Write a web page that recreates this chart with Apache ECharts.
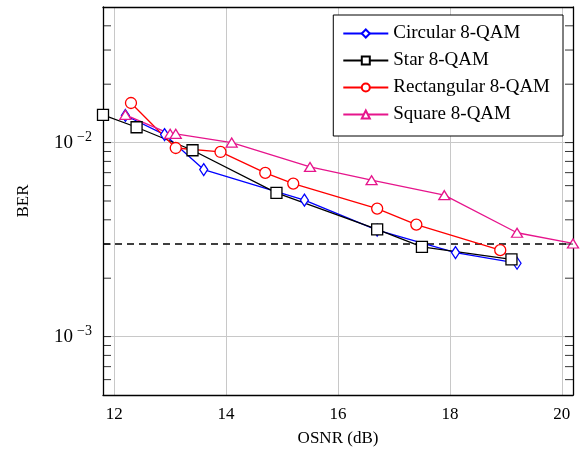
<!DOCTYPE html>
<html>
<head>
<meta charset="utf-8">
<script src="https://cdn.jsdelivr.net/npm/echarts@6/dist/echarts.min.js"></script>
<style>
  html, body { margin: 0; padding: 0; background: #fff; }
  #chart { width: 584px; height: 456px; }
</style>
</head>
<body>
<div id="chart"></div>
<script>
// OSNR (dB) vs BER
var circularX = [12.2, 12.9, 13.6, 15.4, 16.7, 18.1, 19.2];
var circularBER = [0.0138, 0.0110, 0.00726, 0.00505, 0.00354, 0.00271, 0.00239];
var starX = [11.8, 12.4, 13.4, 14.9, 16.7, 17.5, 19.1];
var starBER = [0.0139, 0.0120, 0.00913, 0.00551, 0.00357, 0.00290, 0.00250];
var rectX = [12.3, 13.1, 13.9, 14.7, 15.2, 16.7, 17.4, 18.9];
var rectBER = [0.0160, 0.00938, 0.00895, 0.00698, 0.00615, 0.00457, 0.00378, 0.00279];
var squareX = [12.2, 13.0, 13.1, 14.1, 15.5, 16.6, 17.9, 19.2, 20.2];
var squareBER = [0.0139, 0.0111, 0.0111, 0.0100, 0.00749, 0.00640, 0.00536, 0.00343, 0.00302];
var threshold = 3e-3;
var minorTicks = [6e-4, 7e-4, 8e-4, 9e-4,
  2e-3, 3e-3, 4e-3, 5e-3, 6e-3, 7e-3, 8e-3, 9e-3,
  2e-2, 3e-2, 4e-2];
var majorTicks = [1e-3, 1e-2];
var xMin = 11.8, xMax = 20.2;
var yMin = 5e-4, yMax = 5e-2;

var font = "Liberation Serif";

function zip(xs, ys) {
  return xs.map(function (x, i) { return [x, ys[i]]; });
}

function lineSeries(name, color, symbol, size, xs, ys) {
  return {
    name: name,
    type: "line",
    data: zip(xs, ys),
    symbol: symbol,
    symbolSize: size,
    showAllSymbol: true,
    lineStyle: { color: color, width: 1.3 },
    itemStyle: { color: "#fff", borderColor: color, borderWidth: 1.3 },
    emphasis: { disabled: true }
  };
}

var myChart = echarts.init(document.getElementById("chart"));

var series = [
  // dashed threshold line, drawn first so the curves sit on top
  {
    name: "threshold",
    type: "line",
    data: [[xMin, threshold], [xMax, threshold]],
    symbol: "none",
    silent: true,
    lineStyle: { color: "#000", type: [7, 5], width: 1.4 }
  },
  lineSeries("Circular 8-QAM", "#0000ff", "diamond", [8, 12], circularX, circularBER),
  lineSeries("Star 8-QAM", "#000000", "rect", 11, starX, starBER),
  lineSeries("Rectangular 8-QAM", "#ff0000", "circle", 11, rectX, rectBER),
  lineSeries("Square 8-QAM", "#e6158c", "triangle", [11, 9], squareX, squareBER)
];

// inward log minor/major ticks on both sides
series.push({
  type: "custom",
  silent: true,
  z: 10,
  data: minorTicks.concat(majorTicks).map(function (v) { return [xMin, v]; }),
  renderItem: function (params, api) {
    var v = api.value(1);
    var p = api.coord([xMin, v]);
    var q = api.coord([xMax, v]);
    var len = 8;
    var st = { stroke: "#000", lineWidth: 0.8 };
    return {
      type: "group",
      children: [
        { type: "line", shape: { x1: p[0], y1: p[1], x2: p[0] + len, y2: p[1] }, style: st },
        { type: "line", shape: { x1: q[0], y1: q[1], x2: q[0] - len, y2: q[1] }, style: st }
      ]
    };
  }
});

myChart.setOption({
  animation: false,
  textStyle: { fontFamily: font },
  grid: { left: 103, right: 11, top: 7, bottom: 61 },
  legend: {
    data: ["Circular 8-QAM", "Star 8-QAM", "Rectangular 8-QAM", "Square 8-QAM"],
    orient: "vertical",
    right: 21,
    top: 15,
    padding: [9, 13, 12, 9],
    itemWidth: 45,
    itemHeight: 10,
    itemGap: 8,
    borderColor: "#000",
    borderWidth: 1,
    borderRadius: 0,
    backgroundColor: "#fff",
    selectedMode: false,
    textStyle: { fontFamily: font, fontSize: 19, color: "#000" }
  },
  xAxis: [
    {
      type: "value",
      min: xMin,
      max: xMax,
      name: "OSNR (dB)",
      nameLocation: "middle",
      nameGap: 35,
      nameTextStyle: { fontFamily: font, fontSize: 17, color: "#000" },
      axisLine: { show: true, lineStyle: { color: "#000", width: 1.3 } },
      axisTick: { show: false },
      axisLabel: {
        margin: 11,
        fontFamily: font,
        fontSize: 17,
        color: "#000",
        formatter: function (v) { return Math.abs(v - Math.round(v)) < 1e-6 ? String(v) : ""; }
      },
      splitLine: { show: true, lineStyle: { color: "#c8c8c8", width: 1 } }
    },
    {
      type: "value",
      position: "top",
      min: xMin,
      max: xMax,
      axisLine: { show: true, lineStyle: { color: "#000", width: 1.3 } },
      axisTick: { show: false },
      axisLabel: { show: false },
      splitLine: { show: false }
    }
  ],
  yAxis: [
    {
      type: "log",
      logBase: 10,
      min: yMin,
      max: yMax,
      name: "BER",
      nameLocation: "middle",
      nameGap: 71,
      nameTextStyle: { fontFamily: font, fontSize: 17, color: "#000" },
      axisLine: { show: true, lineStyle: { color: "#000", width: 1.3 } },
      axisTick: { show: false },
      axisLabel: {
        margin: 11,
        color: "#000",
        formatter: function (v) {
          var e = Math.log10(v);
          var r = Math.round(e);
          if (Math.abs(e - r) > 1e-6) return "";
          return "{b|10}{s|\u2212" + (-r) + "}";
        },
        rich: {
          b: { fontFamily: font, fontSize: 19, lineHeight: 24, color: "#000" },
          s: { fontFamily: font, fontSize: 14, lineHeight: 14, verticalAlign: "top", padding: [0, 0, 0, 4], color: "#000" }
        }
      },
      splitLine: {
        show: true,
        lineStyle: { color: "#c8c8c8", width: 1 }
      }
    },
    {
      type: "log",
      logBase: 10,
      position: "right",
      min: yMin,
      max: yMax,
      axisLine: { show: true, lineStyle: { color: "#000", width: 1.3 } },
      axisTick: { show: false },
      axisLabel: { show: false },
      splitLine: { show: false }
    }
  ],
  series: series
});
</script>
</body>
</html>
